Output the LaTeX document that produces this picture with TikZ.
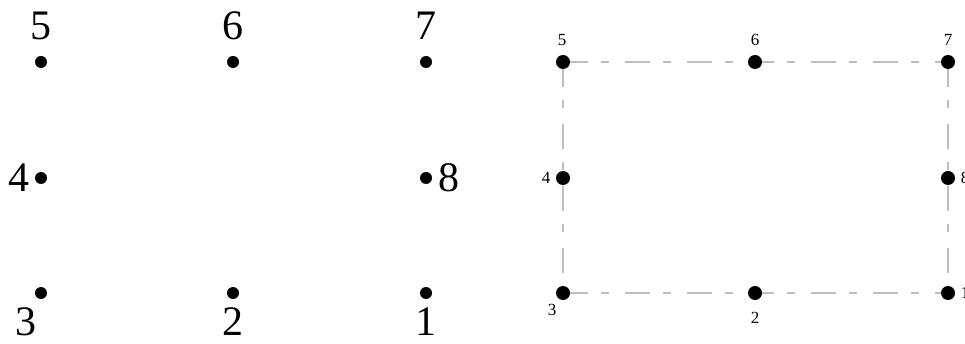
\documentclass[tikz,border=0pt]{standalone}
\usepackage{fontspec}
\setmainfont{Liberation Serif}
\begin{document}
\begin{tikzpicture}[x=1pt,y=-1pt,
  dotL/.style={circle,fill=black,inner sep=0pt,minimum size=12pt},
  dotR/.style={circle,fill=black,inner sep=0pt,minimum size=14pt},
  bigtxt/.style={inner sep=0pt,font=\fontsize{42}{42}\selectfont},
  smalltxt/.style={inner sep=0pt,font=\fontsize{17}{17}\selectfont},
  frame/.style={draw={rgb,255:red,190;green,190;blue,190},line width=2pt,dash pattern=on 25pt off 13pt on 8pt off 16pt}]
\useasboundingbox (0,0) rectangle (965,344);
\clip (0,0) rectangle (965,344);
% left grid
\node[dotL] (L5) at (41,62) {};
\node[dotL] (L6) at (233,62) {};
\node[dotL] (L7) at (426,62) {};
\node[dotL] (L4) at (41,178) {};
\node[dotL] (L8) at (426,178) {};
\node[dotL] (L3) at (41,293) {};
\node[dotL] (L2) at (233,293) {};
\node[dotL] (L1) at (426,293) {};
\node[bigtxt] (tL5) at (41,26) {5};
\node[bigtxt] (tL6) at (233,26) {6};
\node[bigtxt] (tL7) at (426,26) {7};
\node[bigtxt] (tL4) at (19,178) {4};
\node[bigtxt] (tL8) at (449,178) {8};
\node[bigtxt] (tL3) at (26,322) {3};
\node[bigtxt] (tL2) at (233,322) {2};
\node[bigtxt] (tL1) at (426,322) {1};
% right frame
\coordinate (c5) at (563,62);
\coordinate (c7) at (948,62);
\coordinate (c1) at (948,293);
\coordinate (c3) at (563,293);
\draw[frame] (c5) -- (c7);
\draw[frame] (c7) -- (c1);
\draw[frame] (c3) -- (c1);
\draw[frame] (c5) -- (c3);
\node[dotR] (R5) at (c5) {};
\node[dotR] (R6) at (755,62) {};
\node[dotR] (R7) at (c7) {};
\node[dotR] (R4) at (563,178) {};
\node[dotR] (R8) at (948,178) {};
\node[dotR] (R3) at (c3) {};
\node[dotR] (R2) at (755,293) {};
\node[dotR] (R1) at (c1) {};
\node[smalltxt] (tR5) at (562,40) {5};
\node[smalltxt] (tR6) at (755,40) {6};
\node[smalltxt] (tR7) at (948,40) {7};
\node[smalltxt] (tR4) at (546,178) {4};
\node[smalltxt] (tR8) at (965,178) {8};
\node[smalltxt] (tR3) at (552,310) {3};
\node[smalltxt] (tR2) at (755,318) {2};
\node[smalltxt] (tR1) at (965,293) {1};
\end{tikzpicture}
\end{document}
